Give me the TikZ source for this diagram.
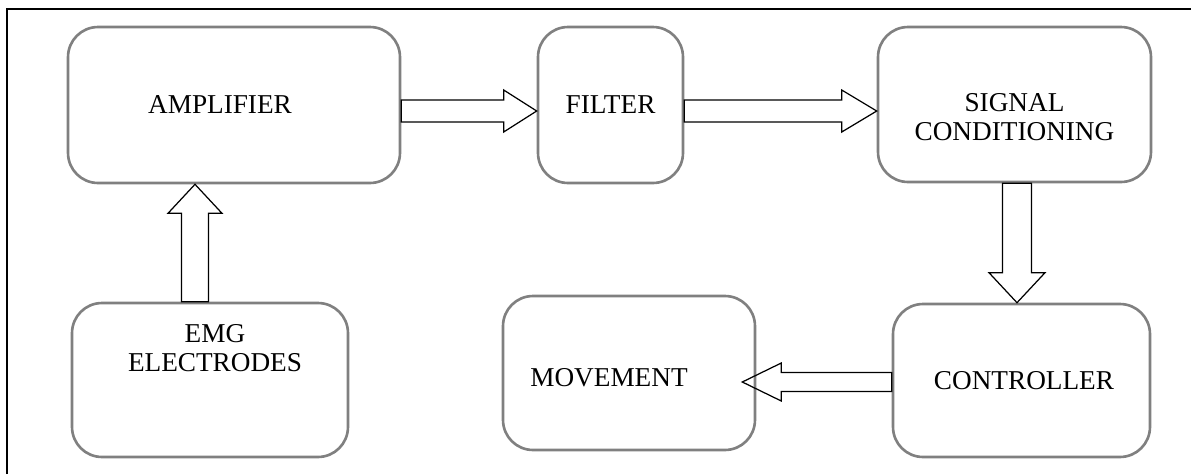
\documentclass[tikz,border=0pt]{standalone}
\usepackage{fontspec}
\setmainfont{Liberation Serif}
\usetikzlibrary{calc}
\definecolor{boxgray}{RGB}{128,128,128}
\tikzset{
  box/.style={draw=boxgray, line width=1.5pt, rounded corners=0.6cm, inner sep=0pt},
  lbl/.style={font=\fontsize{15.5}{16.5}\selectfont, align=center, inner sep=0pt},
  hollowarrow/.style={draw=black, line width=0.7pt, line join=miter},
}
% hollow block arrow: from #1 to tip #2, shaft half-width #3, head half-width #4, head length #5
\newcommand{\bigarrow}[5]{%
  \coordinate (ba-h) at ($(#2)!#5!(#1)$);
  \draw[hollowarrow] ($(#1)!#3!90:(#2)$) -- ($(ba-h)!#3!90:(#2)$) -- ($(ba-h)!#4!90:(#2)$)
    -- (#2) -- ($(ba-h)!#4!-90:(#2)$) -- ($(ba-h)!#3!-90:(#2)$) -- ($(#1)!#3!-90:(#2)$) -- cycle;}
\begin{document}
\begin{tikzpicture}[x=0.02cm, y=-0.02cm]
\useasboundingbox (0,0) rectangle (1191,474);
\draw[line width=1.2pt] (7,474) -- (7,9) -- (1191,9);

\node[box, minimum width=6.64cm, minimum height=3.12cm,
  label={[lbl, xshift=-0.28cm]center:AMPLIFIER}] (amp) at (234,105) {};
\node[box, minimum width=2.9cm, minimum height=3.12cm,
  label={[lbl]center:FILTER}] (filter) at (610.5,105) {};
\node[box, minimum width=5.46cm, minimum height=3.1cm,
  label={[lbl, yshift=-0.26cm]center:SIGNAL\\CONDITIONING}] (sc) at (1014.5,104.5) {};
\node[box, minimum width=5.52cm, minimum height=3.08cm,
  label={[lbl, xshift=0.1cm, yshift=0.64cm]center:EMG\\ELECTRODES}] (emg) at (210,380) {};
\node[box, minimum width=5.04cm, minimum height=3.08cm,
  label={[lbl, xshift=-0.4cm, yshift=-0.1cm]center:MOVEMENT}] (move) at (629,373) {};
\node[box, minimum width=5.14cm, minimum height=3.06cm,
  label={[lbl, xshift=0.05cm]center:CONTROLLER}] (ctrl) at (1021.5,380.5) {};

\coordinate (y111) at (0,111);
\coordinate (y382) at (0,382);
\coordinate (x195) at (195,0);
\coordinate (x1017) at (1017,0);

\coordinate (a1s) at (amp.east |- y111);
\coordinate (a1e) at (filter.west |- y111);
\bigarrow{a1s}{a1e}{0.22cm}{0.42cm}{0.66cm}

\coordinate (a2s) at (filter.east |- y111);
\coordinate (a2e) at (sc.west |- y111);
\bigarrow{a2s}{a2e}{0.22cm}{0.42cm}{0.7cm}

\coordinate (a3s) at (x195 |- emg.north);
\coordinate (a3e) at (x195 |- amp.south);
\bigarrow{a3s}{a3e}{0.27cm}{0.54cm}{0.58cm}

\coordinate (a4s) at (x1017 |- sc.south);
\coordinate (a4e) at (x1017 |- ctrl.north);
\bigarrow{a4s}{a4e}{0.29cm}{0.56cm}{0.6cm}

\coordinate (a5s) at (ctrl.west |- y382);
\coordinate (a5e) at ($(move.east |- y382)+(-14,0)$);
\bigarrow{a5s}{a5e}{0.19cm}{0.38cm}{0.78cm}
\end{tikzpicture}
\end{document}
